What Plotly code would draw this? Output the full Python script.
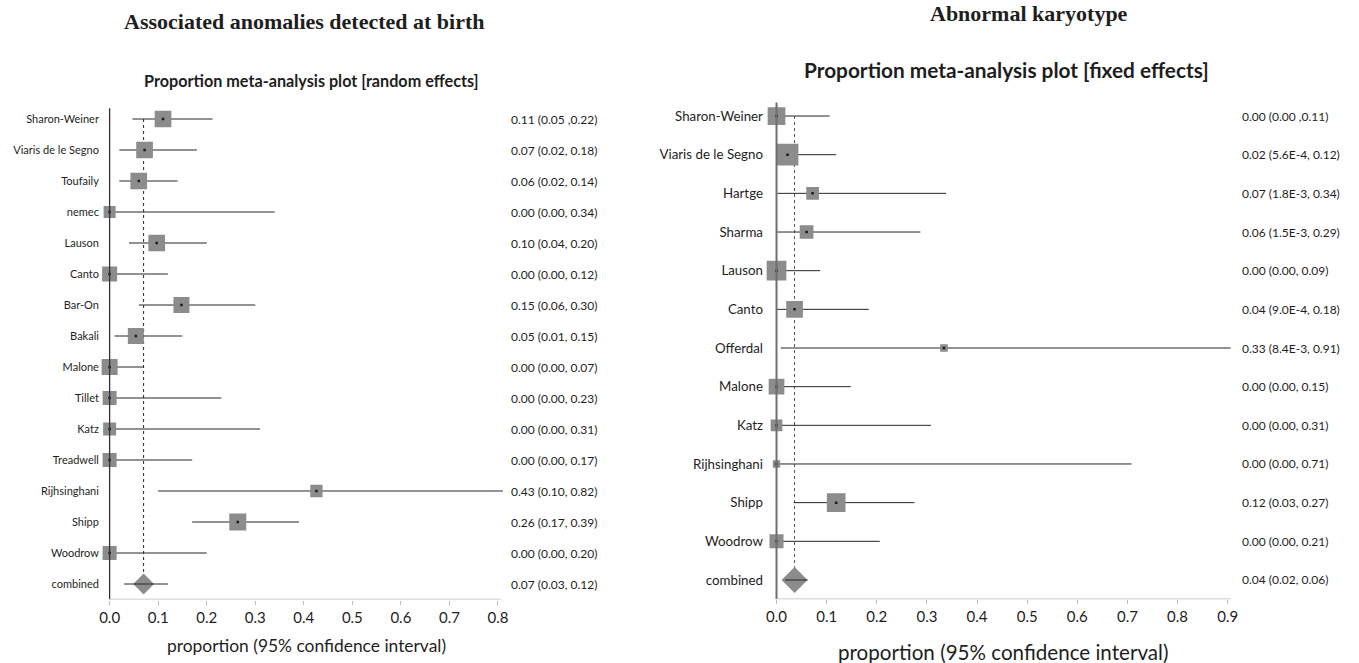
import plotly.graph_objects as go

# ---------------- data: left panel (random effects) ----------------
left_names = ["Sharon-Weiner", "Viaris de le Segno", "Toufaily", "nemec", "Lauson", "Canto",
              "Bar-On", "Bakali", "Malone", "Tillet", "Katz", "Treadwell", "Rijhsinghani",
              "Shipp", "Woodrow", "combined"]
left_est = [0.110, 0.072, 0.060, 0.0, 0.097, 0.0, 0.148, 0.054, 0.0, 0.0, 0.0, 0.0, 0.426, 0.264, 0.0, 0.070]
left_lo = [0.047, 0.02, 0.02, 0.0, 0.04, 0.0, 0.06, 0.01, 0.0, 0.0, 0.0, 0.0, 0.10, 0.17, 0.0, 0.03]
left_hi = [0.212, 0.18, 0.14, 0.34, 0.20, 0.12, 0.30, 0.15, 0.07, 0.23, 0.31, 0.17, 0.82, 0.39, 0.20, 0.12]
left_weight = [16.7, 16.7, 16.7, 12, 16.7, 15, 16, 16, 16, 14, 13, 14, 12.3, 17, 14]
left_text = ["0.11 (0.05 ,0.22)", "0.07 (0.02, 0.18)", "0.06 (0.02, 0.14)", "0.00 (0.00, 0.34)",
             "0.10 (0.04, 0.20)", "0.00 (0.00, 0.12)", "0.15 (0.06, 0.30)", "0.05 (0.01, 0.15)",
             "0.00 (0.00, 0.07)", "0.00 (0.00, 0.23)", "0.00 (0.00, 0.31)", "0.00 (0.00, 0.17)",
             "0.43 (0.10, 0.82)", "0.26 (0.17, 0.39)", "0.00 (0.00, 0.20)", "0.07 (0.03, 0.12)"]
left_ticks = [0.0, 0.1, 0.2, 0.3, 0.4, 0.5, 0.6, 0.7, 0.8]

# ---------------- data: right panel (fixed effects) ----------------
right_names = ["Sharon-Weiner", "Viaris de le Segno", "Hartge", "Sharma", "Lauson", "Canto",
               "Offerdal", "Malone", "Katz", "Rijhsinghani", "Shipp", "Woodrow", "combined"]
right_est = [0.0, 0.022, 0.072, 0.06, 0.0, 0.036, 0.334, 0.0, 0.0, 0.0, 0.119, 0.0, 0.036]
right_lo = [0.0, 0.00056, 0.0018, 0.0015, 0.0, 0.0009, 0.0084, 0.0, 0.0, 0.0, 0.034, 0.0, 0.017]
right_hi = [0.106, 0.119, 0.338, 0.287, 0.087, 0.184, 0.91, 0.148, 0.308, 0.708, 0.275, 0.206, 0.062]
right_weight = [17.7, 21.7, 12.7, 13.7, 19.7, 16.7, 7.7, 15.7, 11.7, 7.3, 18.7, 14]
right_text = ["0.00 (0.00 ,0.11)", "0.02 (5.6E-4, 0.12)", "0.07 (1.8E-3, 0.34)", "0.06 (1.5E-3, 0.29)",
              "0.00 (0.00, 0.09)", "0.04 (9.0E-4, 0.18)", "0.33 (8.4E-3, 0.91)", "0.00 (0.00, 0.15)",
              "0.00 (0.00, 0.31)", "0.00 (0.00, 0.71)", "0.12 (0.03, 0.27)", "0.00 (0.00, 0.21)",
              "0.04 (0.02, 0.06)"]
right_ticks = [0.0, 0.1, 0.2, 0.3, 0.4, 0.5, 0.6, 0.7, 0.8, 0.9]

W, H = 1359, 663
SQ = "#8c8c8c"
LN = "#262626"
FONT = "Lato"
TXT = "#1e1e1e"

fig = go.Figure()


def add_panel(names, est, lo, hi, weight, texts, ticks, xa, ya, diam, label_x, label_size,
              zl_color, zl_width, dot_color):
    n = len(names)
    idx = list(range(n))
    xs = est[:-1]
    ys = idx[:-1]
    fig.add_trace(go.Scatter(
        x=xs, y=ys, mode="markers", xaxis=xa, yaxis=ya, showlegend=False, hoverinfo="skip",
        marker=dict(symbol="square", size=weight, color=SQ, opacity=1, line=dict(width=0)),
        error_x=dict(type="data", symmetric=False,
                     array=[h - e for h, e in zip(hi[:-1], xs)],
                     arrayminus=[e - l for e, l in zip(xs, lo[:-1])],
                     width=0, thickness=1, color=LN),
    ))
    fig.add_trace(go.Scatter(
        x=xs, y=ys, mode="markers", xaxis=xa, yaxis=ya, showlegend=False, hoverinfo="skip",
        marker=dict(symbol="square", size=2.5, color="#1a1a1a"),
    ))
    fig.add_trace(go.Scatter(
        x=[est[-1]], y=[idx[-1]], mode="markers", xaxis=xa, yaxis=ya, showlegend=False,
        hoverinfo="skip", marker=dict(symbol="diamond", size=diam, color=SQ, opacity=1,
                                      line=dict(width=0)),
    ))
    fig.add_trace(go.Scatter(
        x=[lo[-1], hi[-1]], y=[idx[-1], idx[-1]], mode="lines", xaxis=xa, yaxis=ya,
        showlegend=False, hoverinfo="skip", line=dict(color=LN, width=1),
    ))
    # dotted line at combined estimate
    fig.add_shape(type="line", xref=xa, yref=ya, x0=est[-1], x1=est[-1], y0=0, y1=n - 1,
                  line=dict(color=dot_color, width=1, dash="dot"), layer="below")
    # vertical zero line
    fig.add_shape(type="line", xref=xa, yref=ya, x0=0, x1=0, y0=-0.35, y1=n - 0.5,
                  line=dict(color=zl_color, width=zl_width), layer="above")
    # bottom axis line from 0 to end
    fig.add_shape(type="line", xref=xa, yref=ya, x0=0, x1=ticks[-1] + 0.006, y0=n - 0.5, y1=n - 0.5,
                  line=dict(color="#bdbdbd", width=1.5), layer="above")
    for i, t in enumerate(texts):
        fig.add_annotation(text=t, xref="paper", yref=ya, x=label_x / W, y=i, xanchor="left",
                           yanchor="middle", showarrow=False,
                           font=dict(family=FONT, size=label_size, color=TXT))


add_panel(left_names, left_est, left_lo, left_hi, left_weight, left_text, left_ticks,
          "x", "y", 16, 511, 12, "#333333", 1.3, "#262626")
add_panel(right_names, right_est, right_lo, right_hi, right_weight, right_text, right_ticks,
          "x2", "y2", 20, 1246, 12, "#6e6e6e", 2, "#555555")

ax_common = dict(showgrid=False, zeroline=False, showline=False, ticks="outside", ticklen=4,
                 tickcolor="#bdbdbd", tickwidth=1, tickformat=".1f",
                 tickfont=dict(family=FONT, size=15, color=TXT))

fig.update_layout(
    width=W, height=H, margin=dict(l=0, r=0, t=0, b=0),
    paper_bgcolor="white", plot_bgcolor="white",
    xaxis=dict(domain=[99.5 / W, 504.8 / W], range=[-0.02, 0.81], tickvals=left_ticks,
               anchor="y", **ax_common),
    yaxis=dict(domain=[(H - 599.5) / H, (H - 103.5) / H], range=[len(left_names) - 0.5, -0.5],
               tickvals=list(range(len(left_names))), ticktext=left_names, ticks="",
               showgrid=False, zeroline=False, showline=False, anchor="x",
               tickfont=dict(family=FONT, size=11, color=TXT)),
    xaxis2=dict(domain=[767.5 / W, 1237 / W], range=[-0.025, 0.906], tickvals=right_ticks,
                anchor="y2", **ax_common),
    yaxis2=dict(domain=[(H - 599.3) / H, (H - 96.7) / H], range=[len(right_names) - 0.5, -0.5],
                tickvals=list(range(len(right_names))), ticktext=right_names, ticks="",
                showgrid=False, zeroline=False, showline=False, anchor="x2",
                tickfont=dict(family=FONT, size=13.3, color=TXT)),
)

# titles
fig.add_annotation(text="<b>Associated anomalies detected at birth</b>", xref="paper", yref="paper",
                   x=305 / W, y=1 - 22 / H, showarrow=False, xanchor="center", yanchor="middle",
                   font=dict(family="Liberation Serif", size=22, color=TXT))
fig.add_annotation(text="<b>Abnormal karyotype</b>", xref="paper", yref="paper",
                   x=1034 / W, y=1 - 13 / H, showarrow=False, xanchor="center", yanchor="middle",
                   font=dict(family="Liberation Serif", size=22, color=TXT))
fig.add_annotation(text="<b>Proportion meta-analysis plot [random effects]</b>", xref="paper", yref="paper",
                   x=312 / W, y=1 - 80 / H, showarrow=False, xanchor="center", yanchor="middle",
                   font=dict(family=FONT, size=16.2, color=TXT))
fig.add_annotation(text="<b>Proportion meta-analysis plot [fixed effects]</b>", xref="paper", yref="paper",
                   x=1011 / W, y=1 - 70 / H, showarrow=False, xanchor="center", yanchor="middle",
                   font=dict(family=FONT, size=20.8, color=TXT))
# axis titles
fig.add_annotation(text="proportion (95% confidence interval)", xref="paper", yref="paper",
                   x=307 / W, y=1 - 645 / H, showarrow=False, xanchor="center", yanchor="middle",
                   font=dict(family=FONT, size=17.4, color=TXT))
fig.add_annotation(text="proportion (95% confidence interval)", xref="paper", yref="paper",
                   x=1008 / W, y=1 - 652 / H, showarrow=False, xanchor="center", yanchor="middle",
                   font=dict(family=FONT, size=20.6, color=TXT))

fig.write_html("out.html", config={"displayModeBar": False},
               post_script="document.body.style.margin='0';document.body.style.overflow='hidden';")
